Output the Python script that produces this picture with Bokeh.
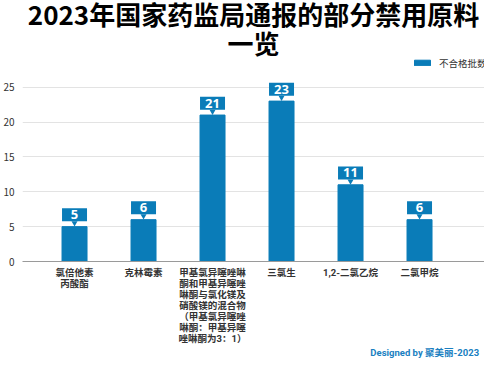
from bokeh.plotting import figure
from bokeh.models import (ColumnDataSource, Range1d, FixedTicker, Label, Legend, LegendItem,
                          LinearAxis)
from bokeh.core.properties import value
from bokeh.embed import file_html
from bokeh.resources import INLINE

# ---- data ----
categories = [
    "氯倍他素\n丙酸酯",
    "克林霉素",
    "甲基氯异噻唑啉\n酮和甲基异噻唑\n啉酮与氯化镁及\n硝酸镁的混合物\n（甲基氯异噻唑\n啉酮：甲基异噻\n唑啉酮为3：1）",
    "三氯生",
    "1,2-二氯乙烷",
    "二氯甲烷",
]
counts = [5, 6, 21, 23, 11, 6]
series_name = "不合格批数"
y_ticks = [0, 5, 10, 15, 20, 25]
title_line1 = "2023年国家药监局通报的部分禁用原料"
title_line2 = "一览"
footer = "Designed by 聚美丽-2023"

BAR = "#0a7cb8"
FONT = "Noto Sans CJK SC"
LABEL_FONT = "Roboto, 'Noto Sans CJK SC'"   # compact line metrics, CJK glyphs fall back
W, H = 484, 360
LEFT, RIGHT = 22, 0
FRAME_PX = 253            # frame height left after the two bottom axes
FRAME_BOTTOM = 261        # screen y of the frame bottom
frame_w = W - LEFT - RIGHT
px_per_unit = 6.76
SPACING = 69.0
X0 = -0.754
Y_MAX = FRAME_PX / px_per_unit

xs = list(range(len(categories)))
src = ColumnDataSource(dict(
    x=xs, y=counts,
    lbl=[str(c) for c in counts],
    box_y=[c + 11.5 / px_per_unit for c in counts],
    tri_y=[c + 3.5 / px_per_unit for c in counts],
))

p = figure(width=W, height=H, output_backend="svg", toolbar_location=None,
           x_range=Range1d(X0, X0 + frame_w / SPACING),
           y_range=Range1d(0, Y_MAX),
           min_border_top=0, min_border_bottom=0,
           min_border_left=LEFT, min_border_right=RIGHT)
p.outline_line_color = None
p.background_fill_color = "white"
p.border_fill_color = "white"

r = p.vbar(x="x", top="y", width=25 / SPACING, source=src, color=BAR)

# value callouts
p.rect(x="x", y="box_y", width=25, height=13, width_units="screen",
       height_units="screen", source=src, fill_color=BAR, line_color=None)
p.scatter(x="x", y="tri_y", marker="inverted_triangle", size=6, source=src,
          fill_color=BAR, line_color=None)
p.text(x="x", y="box_y", text="lbl", source=src, text_color="white",
       text_font=value("Open Sans"), text_font_style="bold", text_font_size="13px",
       text_align="center", text_baseline="middle")

# x axis (categories)
p.xaxis.ticker = FixedTicker(ticks=xs)
p.xaxis.major_label_overrides = {i: c for i, c in enumerate(categories)}
p.xaxis.major_label_text_font = LABEL_FONT
p.xaxis.major_label_text_font_size = "9.5px"
p.xaxis.major_label_text_line_height = 1.0
p.xaxis.major_label_text_color = "#333333"
p.xaxis.major_label_text_font_style = "bold"
p.xaxis.major_tick_line_color = None
p.xaxis.minor_tick_line_color = None
p.xaxis.major_tick_out = 0
p.xaxis.major_tick_in = 0
p.xaxis.minor_tick_out = 0
p.xaxis.axis_label = None
p.xaxis.axis_line_color = "#9a9a9a"
p.xaxis.major_label_standoff = 5

# footer: an extra line-less bottom axis with one labelled tick
footer_x = X0 + (443 - 30) / SPACING
fax = LinearAxis(ticker=FixedTicker(ticks=[footer_x]),
                 major_label_overrides={footer_x: footer}, axis_label=None,
                 axis_line_color=None, major_tick_line_color=None,
                 minor_tick_line_color=None, major_tick_out=0, major_tick_in=0,
                 minor_tick_out=0, minor_tick_in=0, major_label_standoff=0,
                 major_label_text_font=LABEL_FONT, major_label_text_font_style="bold",
                 major_label_text_font_size="9.5px", major_label_text_color="#1a7fc1")
p.add_layout(fax, "below")

# y axis
p.yaxis.ticker = FixedTicker(ticks=y_ticks)
p.yaxis.major_label_text_font = FONT
p.yaxis.major_label_text_font_size = "10px"
p.yaxis.major_label_text_color = "#333333"
p.yaxis.axis_line_color = None
p.yaxis.major_tick_line_color = None
p.yaxis.minor_tick_line_color = None
p.yaxis.major_tick_out = 0
p.yaxis.minor_tick_out = 0
p.yaxis.axis_label = None
p.yaxis.major_label_standoff = 8

p.xgrid.grid_line_color = None
p.ygrid.grid_line_color = "#e3e3e3"

# legend inside the (empty) top of the frame
legend = Legend(items=[LegendItem(label=series_name, renderers=[r])],
                location=(390, FRAME_BOTTOM - 64.5 - 5), orientation="horizontal",
                padding=0, margin=0, spacing=0, border_line_color=None,
                background_fill_alpha=0, glyph_width=20, glyph_height=7,
                label_height=10, label_standoff=7,
                label_text_font=FONT, label_text_font_size="9.5px",
                label_text_color="#333333")
p.add_layout(legend)

# two-line title hung from the top of the frame (frame top = canvas top)
for txt, yy in [(title_line1, 21), (title_line2, 50)]:
    p.add_layout(Label(x=frame_w / 2, y=Y_MAX, x_units="screen", y_units="data",
                       y_offset=-(yy - 8),
                       text=txt, text_font=FONT, text_font_style="bold",
                       text_font_size="26px", text_color="black",
                       text_align="center", text_baseline="middle"))

open("out.html", "w").write(file_html(p, INLINE))
